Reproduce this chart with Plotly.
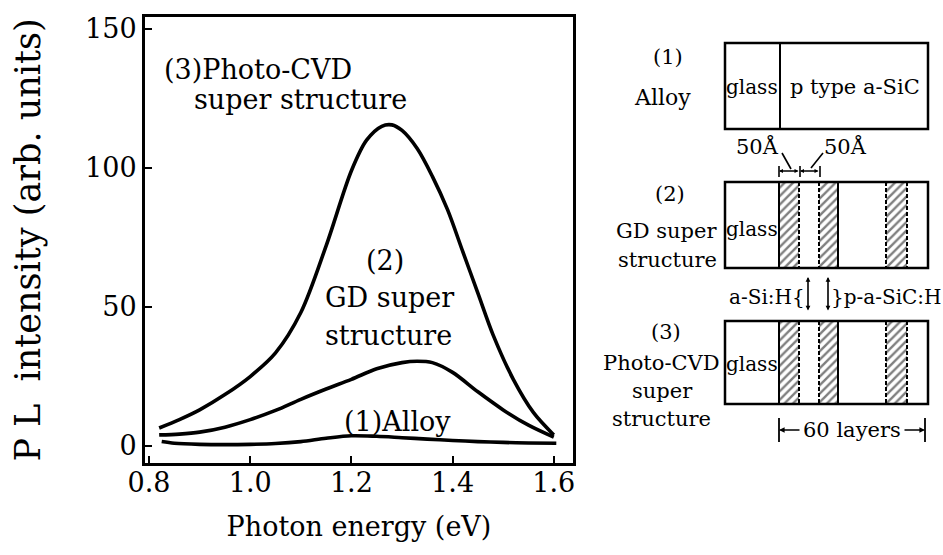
import plotly.graph_objects as go

# ---------------------------------------------------------------- data
energy_cvd = [0.82, 0.86, 0.90, 0.95, 1.00, 1.05, 1.10, 1.15, 1.20, 1.23, 1.26, 1.28,
              1.30, 1.33, 1.36, 1.39, 1.42, 1.45, 1.48, 1.52, 1.56, 1.60]
pl_cvd = [6.5, 9.5, 13.0, 18.5, 25.0, 33.5, 48.0, 72.0, 99.0, 110.0, 115.0, 115.5,
          113.5, 107.0, 97.0, 85.0, 70.0, 55.0, 40.0, 24.0, 12.0, 4.0]

energy_gd = [0.82, 0.86, 0.90, 0.95, 1.00, 1.05, 1.10, 1.15, 1.20, 1.25, 1.30, 1.33,
             1.36, 1.40, 1.45, 1.50, 1.55, 1.60]
pl_gd = [4.0, 4.3, 5.0, 6.8, 9.5, 12.8, 16.8, 20.5, 24.0, 27.8, 30.0, 30.5,
         30.0, 26.5, 19.5, 13.0, 7.5, 3.2]

energy_alloy = [0.825, 0.85, 0.90, 0.95, 1.00, 1.05, 1.10, 1.15, 1.20, 1.25, 1.30,
                1.35, 1.40, 1.45, 1.50, 1.55, 1.605]
pl_alloy = [1.6, 1.0, 0.6, 0.5, 0.6, 0.9, 1.6, 2.8, 3.7, 3.5, 3.0, 2.5, 2.0, 1.6,
            1.3, 1.1, 1.0]

x_tick_vals = [0.8, 1.0, 1.2, 1.4, 1.6]
x_tick_text = ["0.8", "1.0", "1.2", "1.4", "1.6"]
y_tick_vals = [0, 50, 100, 150]
y_tick_text = ["0", "50", "100", "150"]

# ---------------------------------------------------------------- style
W, H = 943, 555
FONT = "DejaVu Serif"
INK = "black"

fig = go.Figure()

for xs, ys in [(energy_cvd, pl_cvd), (energy_gd, pl_gd), (energy_alloy, pl_alloy)]:
    fig.add_trace(go.Scatter(
        x=xs, y=ys, mode="lines",
        line=dict(color=INK, width=3.6, shape="spline", smoothing=0.9),
        showlegend=False, hoverinfo="skip"))

# curve labels inside the spectrum panel
curve_labels = [
    ("(3)Photo-CVD", 0.826, 135.3, "left"),
    ("super structure", 0.885, 124.8, "left"),
    ("(2)", 1.267, 66.9, "center"),
    ("GD super", 1.143, 53.6, "left"),
    ("structure", 1.143, 39.9, "left"),
    ("(1)Alloy", 1.182, 9.0, "left"),
]
for txt, xv, yv, anc in curve_labels:
    fig.add_annotation(x=xv, y=yv, xref="x", yref="y", text=txt, showarrow=False,
                       xanchor=anc, yanchor="middle",
                       font=dict(family=FONT, size=27, color=INK))

# ---------------------------------------------------------------- layer sketch
# The sketch lives on a hidden overlay axis pair measured in page pixels.
D = dict(xref="x2", yref="y2")
BOX_X0, BOX_X1 = 725, 928
DIV_X = 780
BOX1 = (43, 129)
BOX2 = (182, 268)
BOX3 = (321, 404)
EDGE_DASH = "4px,2px"
BANDS = [(779, 799, "solid", EDGE_DASH), (819, 838, EDGE_DASH, "solid"),
         (886, 907, EDGE_DASH, EDGE_DASH)]


def line(x0, y0, x1, y1, width=2.5, dash="solid"):
    fig.add_shape(type="line", x0=x0, y0=y0, x1=x1, y1=y1,
                  line=dict(color=INK, width=width, dash=dash), **D)


def label(txt, x, y, anchor="center", size=21):
    fig.add_annotation(x=x, y=y, text=txt, showarrow=False, xanchor=anchor,
                       yanchor="middle", font=dict(family=FONT, size=size, color=INK), **D)


def arrow(x_tip, y_tip, x_tail, y_tail, both=False, size=0.6):
    fig.add_annotation(x=x_tip, y=y_tip, ax=x_tail, ay=y_tail, axref="x2", ayref="y2",
                       text="", showarrow=True, arrowhead=2, arrowsize=size,
                       arrowwidth=1.6, arrowcolor=INK,
                       arrowside="end+start" if both else "end", **D)


# (1) alloy film
fig.add_shape(type="rect", x0=BOX_X0, x1=BOX_X1, y0=BOX1[0], y1=BOX1[1],
              line=dict(color=INK, width=2.5), **D)
line(DIV_X, BOX1[0], DIV_X, BOX1[1], width=2)
label("glass", 752, 87, size=20)
label("p type a-SiC", 855, 87)
label("(1)", 668, 57)
label("Alloy", 662, 97, size=22)

# well / barrier thickness marks
label("50Å", 757, 146)
label("50Å", 845, 146)
line(782, 153, 791, 169, width=1.6)
line(823, 153, 811, 168, width=1.6)
for xt in (779, 800, 820):
    line(xt, 166, xt, 177, width=1.6)
arrow(779, 171, 800, 171, both=True, size=0.5)
arrow(800, 171, 820, 171, both=True, size=0.5)

# (2) and (3) superlattice stacks
for (y0, y1) in (BOX2, BOX3):
    for bx0, bx1, dl, dr in BANDS:
        fig.add_trace(go.Scatter(
            x=[bx0, bx1, bx1, bx0, bx0], y=[y0, y0, y1, y1, y0],
            xaxis="x2", yaxis="y2", mode="lines", fill="toself",
            fillcolor="white", line=dict(width=0, color="rgba(0,0,0,0)"),
            fillpattern=dict(shape="/", size=6, solidity=0.4, fgcolor=INK, bgcolor="white"),
            showlegend=False, hoverinfo="skip"))
        line(bx0, y0, bx0, y1, width=2, dash=dl)
        line(bx1, y0, bx1, y1, width=2, dash=dr)
    fig.add_shape(type="rect", x0=BOX_X0, x1=BOX_X1, y0=y0, y1=y1,
                  line=dict(color=INK, width=2.5), **D)

label("glass", 752, 229, size=20)
label("(2)", 670, 194)
label("GD super", 719, 231, anchor="right")
label("structure", 719, 260, anchor="right")

label("a-Si:H{", 807, 297, anchor="right", size=20)
label("}p-a-SiC:H", 829, 297, anchor="left", size=20)
arrow(808, 277, 808, 312, both=True, size=0.6)
arrow(828, 277, 828, 312, both=True, size=0.6)

label("glass", 752, 364, size=20)
label("(3)", 666, 332)
label("Photo-CVD", 661, 363)
label("super", 662, 391)
label("structure", 661, 419)

# layer count bracket
line(779, 418, 779, 442, width=1.8)
line(925, 418, 925, 442, width=1.8)
label("60 layers", 852, 430)
arrow(779, 430, 801, 430, size=0.7)
arrow(925, 430, 903, 430, size=0.7)

# ---------------------------------------------------------------- axes
axis_common = dict(showline=True, linecolor=INK, linewidth=3, mirror=True,
                   ticks="inside", ticklen=7, tickwidth=2, tickcolor=INK,
                   showgrid=False, zeroline=False, automargin=False,
                   tickfont=dict(family=FONT, size=27, color=INK))

fig.update_layout(
    width=W, height=H,
    margin=dict(l=0, r=0, t=0, b=0),
    paper_bgcolor="white", plot_bgcolor="rgba(0,0,0,0)",
    showlegend=False,
    xaxis=dict(domain=[145 / W, 573 / W], range=[0.792, 1.638],
               tickvals=x_tick_vals, ticktext=x_tick_text, ticklabelstandoff=-6,
               title=dict(text="Photon energy (eV)", standoff=20,
                          font=dict(family=FONT, size=27, color=INK)),
               **axis_common),
    yaxis=dict(domain=[1 - 463 / H, 1 - 17 / H], range=[-6.1, 154.3],
               tickvals=y_tick_vals, ticktext=y_tick_text,
               title=dict(text="P L\u00a0\u00a0intensity (arb. units)", standoff=34,
                          font=dict(family=FONT, size=35, color=INK)),
               **axis_common),
    xaxis2=dict(domain=[0, 1], range=[0, W], visible=False, anchor="y2",
                fixedrange=True, automargin=False),
    yaxis2=dict(domain=[0, 1], range=[H, 0], visible=False, anchor="x2",
                fixedrange=True, automargin=False),
)

fig.write_html("out.html")
